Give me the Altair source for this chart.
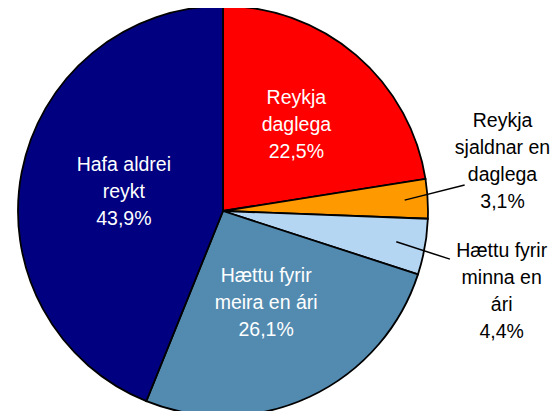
import math
import altair as alt
import pandas as pd

# ---- data ----
categories = ["Reykja daglega", "Reykja sjaldnar en daglega", "Hættu fyrir minna en ári",
              "Hættu fyrir meira en ári", "Hafa aldrei reykt"]
label_lines = [["Reykja", "daglega"], ["Reykja", "sjaldnar en", "daglega"],
               ["Hættu fyrir", "minna en", "ári"], ["Hættu fyrir", "meira en ári"],
               ["Hafa aldrei", "reykt"]]
values = [22.5, 3.1, 4.4, 26.1, 43.9]
colors = ["#FF0000", "#FF9900", "#B4D6F3", "#538BB0", "#000080"]

# ---- layout ----
W, H = 542, 403
cx, cy, R = 215, 203, 205
FONT = "Liberation Sans"
FS, LH = 19.5, 27
text_colors = ["white", "black", "black", "white", "white"]
# label radius from centre and extra pixel shift (dx, dy) per slice
label_r = [113, 280, 280, 102, 101]
label_shift = [(0, 0), (0, -33), (3, 31), (0, 0), (0, 0)]
# leader lines: slice index -> (inner radius, outer radius, angle shift in degrees)
leader = {1: (182, 243, -2.7), 2: (176, 232, 1.9)}

def pct(v):
    return f"{v:.1f}".replace(".", ",") + "%"

total = sum(values)
cum = 0
mids = []
for v in values:
    mids.append((cum + v / 2) / total * 2 * math.pi)
    cum += v

df = pd.DataFrame({
    "idx": list(range(len(categories))),
    "category": categories,
    "value": values,
})

lab_rows = []
for k, (lines, v) in enumerate(zip(label_lines, values)):
    a = mids[k]
    r = label_r[k]
    sx, sy = label_shift[k]
    txt = lines + [pct(v)]
    lab_rows.append({"text": txt,
                     "x": cx + r * math.sin(a) + sx,
                     "y": cy - r * math.cos(a) + sy - (len(txt) - 1) * LH / 2,
                     "tc": text_colors[k]})
lab_df = pd.DataFrame(lab_rows)

rows = []
for k, (r1, r2, da) in leader.items():
    a1 = mids[k]
    a2 = mids[k] + math.radians(da)
    rows.append({"x": cx + r1 * math.sin(a1), "y": cy - r1 * math.cos(a1),
                 "x2": cx + r2 * math.sin(a2), "y2": cy - r2 * math.cos(a2)})
lines_df = pd.DataFrame(rows)

arcs = alt.Chart(df).mark_arc(radius=R, stroke="black", strokeWidth=1.8).encode(
    theta=alt.Theta("value:Q", stack=True),
    color=alt.Color("category:N", scale=alt.Scale(domain=categories, range=colors), legend=None),
    order=alt.Order("idx:Q"),
    x=alt.value(cx), y=alt.value(cy),
)

labels = alt.Chart(lab_df).mark_text(font=FONT, fontSize=FS, lineHeight=LH,
                                      align="center", baseline="middle").encode(
    x=alt.X("x:Q", scale=None), y=alt.Y("y:Q", scale=None),
    text=alt.Text("text:N"),
    color=alt.Color("tc:N", scale=None),
)

rules = alt.Chart(lines_df).mark_rule(color="black", strokeWidth=1.5).encode(
    x=alt.X("x:Q", scale=None), y=alt.Y("y:Q", scale=None),
    x2="x2:Q", y2="y2:Q",
)

chart = alt.layer(arcs, rules, labels).properties(
    width=W, height=H, autosize=alt.AutoSizeParams(type="none"), padding=0
).configure_view(stroke=None)

chart.save("out.html", embed_options={"renderer": "svg", "actions": False})
